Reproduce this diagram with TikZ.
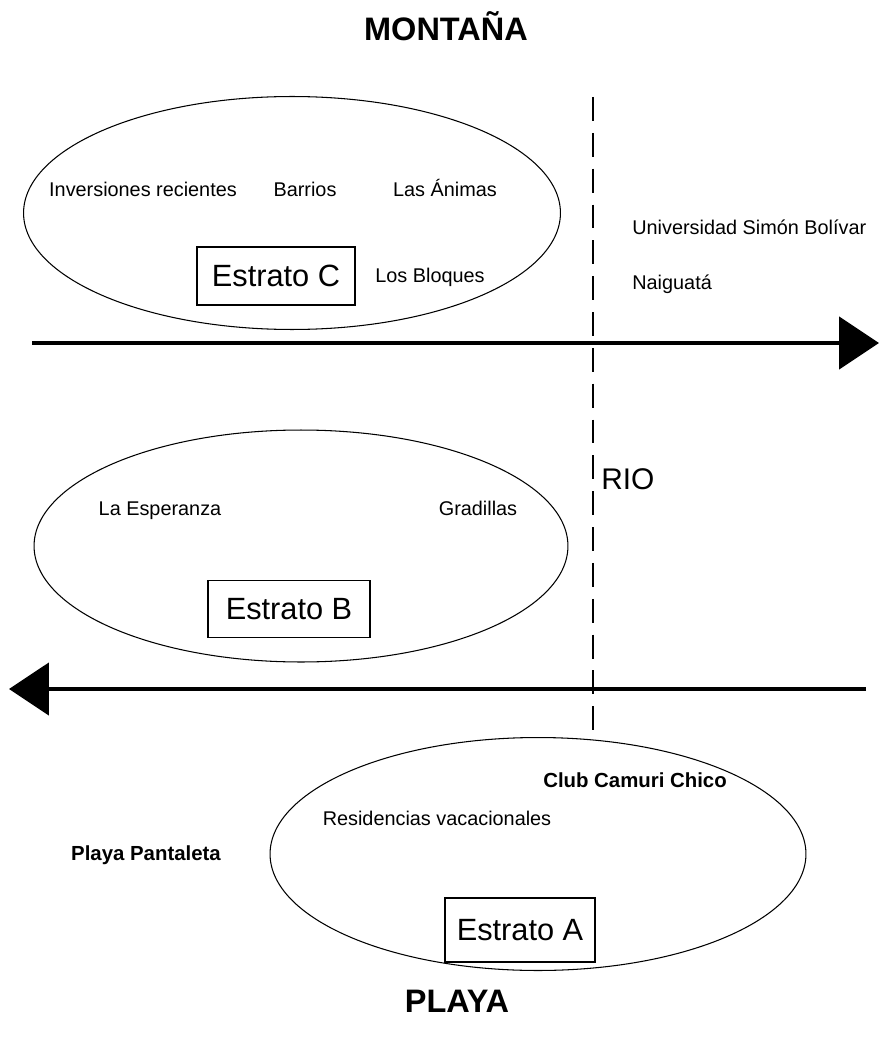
\documentclass[tikz,border=0pt]{standalone}
\usepackage{fontspec}
\setmainfont{Liberation Sans}
\usetikzlibrary{arrows.meta,shapes.geometric,positioning}

\begin{document}
\begin{tikzpicture}[x=0.02cm,y=-0.02cm,
    lbl/.style={font=\fontsize{11.3}{13}\selectfont, inner sep=0pt, anchor=base},
    blbl/.style={font=\fontsize{11.6}{13}\selectfont\bfseries, inner sep=0pt, anchor=base},
    titulo/.style={font=\fontsize{18.5}{22}\selectfont\bfseries, inner sep=0pt, anchor=base},
    estrato/.style={draw, line width=0.6pt, inner sep=0pt,
      font=\fontsize{17.5}{20}\selectfont},
    zona/.style={draw, ellipse, line width=0.6pt, inner sep=0pt},
    flujo/.style={line width=2.7pt, -{Triangle[length=0.8cm,width=1.04cm]}}]
  \useasboundingbox (0,0) rectangle (879,1040);

  % TITLES
  \node[titulo] (montana) at (446,41) {MONTAÑA};
  \node[titulo] (playa) at (457,1012) {PLAYA};

  % ZONES
  \node[zona, minimum width=10.74cm, minimum height=4.66cm] (zonaC) at (292,213) {};
  \node[zona, minimum width=10.68cm, minimum height=4.64cm] (zonaB) at (301,546) {};
  \node[zona, minimum width=10.72cm, minimum height=4.66cm] (zonaA) at (538,854) {};

  % RIVER
  \coordinate (rioN) at (593,97);
  \coordinate (rioS) at (593,741);
  \draw[line width=1.2pt, dash pattern=on 13.6pt off 6.8pt] (rioN) -- (rioS);
  \node[font=\fontsize{17}{20}\selectfont, inner sep=0pt, anchor=base west] (rio) at (601,489) {RIO};

  % FLOWS
  \coordinate (f1a) at (32,343);
  \coordinate (f1b) at (879,343);
  \coordinate (f2a) at (866,689);
  \coordinate (f2b) at (9,689);
  \draw[flujo] (f1a) -- (f1b);
  \draw[flujo] (f2a) -- (f2b);

  % ESTRATO C
  \node[lbl] (inversiones) at (143,197) {Inversiones recientes};
  \node[lbl] (barrios) at (305,197) {Barrios};
  \node[lbl] (animas) at (445,197) {Las Ánimas};
  \node[estrato, minimum width=3.16cm, minimum height=1.16cm] (estC) at (276,276) {Estrato C};
  \node[lbl] (bloques) at (430,282) {Los Bloques};

  % EAST
  \node[lbl, anchor=base west] (usb) at (632,235) {Universidad Simón Bolívar};
  \node[lbl, anchor=base west] (naiguata) at (632,290) {Naiguatá};

  % ESTRATO B
  \node[lbl] (esperanza) at (160,515) {La Esperanza};
  \node[lbl] (gradillas) at (478,515) {Gradillas};
  \node[estrato, minimum width=3.24cm, minimum height=1.14cm] (estB) at (289,609) {Estrato B};

  % ESTRATO A
  \node[blbl] (camuri) at (635,787) {Club Camuri Chico};
  \node[lbl] (residencias) at (437,825) {Residencias vacacionales};
  \node[blbl] (pantaleta) at (146,860) {Playa Pantaleta};
  \node[estrato, minimum width=3.00cm, minimum height=1.28cm] (estA) at (520,930) {Estrato A};
\end{tikzpicture}
\end{document}
